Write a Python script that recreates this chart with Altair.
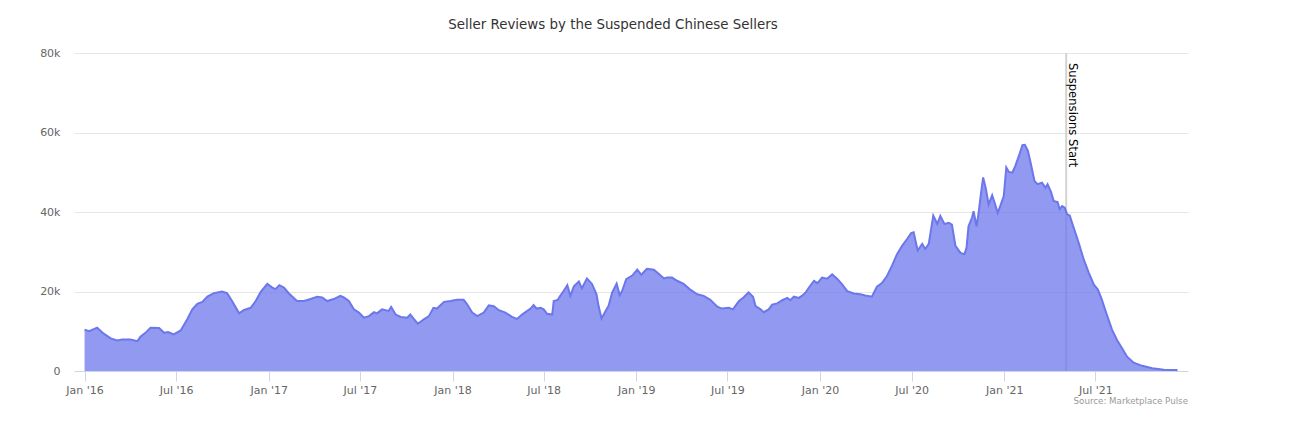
import altair as alt
import pandas as pd

# ---- data (values in thousands of reviews) ----
dates_2016 = ["2016-01-01", "2016-01-10", "2016-01-26", "2016-02-08", "2016-02-22", "2016-03-06",
              "2016-03-16", "2016-04-01", "2016-04-15", "2016-04-21", "2016-05-01", "2016-05-11",
              "2016-05-28", "2016-06-07", "2016-06-15", "2016-06-26", "2016-07-10", "2016-07-23",
              "2016-08-02", "2016-08-12", "2016-08-22", "2016-09-01", "2016-09-14", "2016-09-30",
              "2016-10-10", "2016-10-20", "2016-11-03", "2016-11-12", "2016-11-26", "2016-12-06",
              "2016-12-16", "2016-12-29"]
reviews_2016 = [10.4, 10.0, 10.9, 9.4, 8.2, 7.7, 7.9, 7.9, 7.5, 8.6, 9.6, 10.9, 10.8, 9.6, 9.8, 9.2,
                10.2, 13.0, 15.5, 16.9, 17.4, 18.7, 19.6, 20.0, 19.6, 17.6, 14.5, 15.3, 15.9, 17.6,
                19.9, 21.9]

dates_2017 = ["2017-01-08", "2017-01-14", "2017-01-22", "2017-01-31", "2017-02-10", "2017-02-26",
              "2017-03-12", "2017-03-25", "2017-04-07", "2017-04-17", "2017-04-27", "2017-05-10",
              "2017-05-23", "2017-05-30", "2017-06-09", "2017-06-19", "2017-06-29", "2017-07-09",
              "2017-07-19", "2017-07-29", "2017-08-04", "2017-08-14", "2017-08-27", "2017-09-01",
              "2017-09-10", "2017-09-20", "2017-10-03", "2017-10-09", "2017-10-16", "2017-10-24",
              "2017-11-05", "2017-11-15", "2017-11-24", "2017-12-01", "2017-12-15", "2017-12-28"]
reviews_2017 = [21.0, 20.6, 21.6, 21.0, 19.5, 17.6, 17.6, 18.1, 18.7, 18.5, 17.6, 18.1, 18.9, 18.5,
                17.6, 15.5, 14.7, 13.4, 13.8, 14.8, 14.5, 15.5, 15.1, 16.1, 14.2, 13.6, 13.4, 14.2,
                13.1, 11.9, 13.0, 13.8, 15.9, 15.7, 17.4, 17.6]

dates_2018 = ["2018-01-10", "2018-01-23", "2018-01-30", "2018-02-09", "2018-02-19", "2018-03-04",
              "2018-03-14", "2018-03-24", "2018-04-03", "2018-04-16", "2018-04-29", "2018-05-09",
              "2018-05-19", "2018-05-26", "2018-06-05", "2018-06-11", "2018-06-17", "2018-06-25",
              "2018-07-01", "2018-07-08", "2018-07-18", "2018-07-21", "2018-07-29", "2018-08-03",
              "2018-08-10", "2018-08-17", "2018-08-23", "2018-08-30", "2018-09-09", "2018-09-15",
              "2018-09-25", "2018-10-05", "2018-10-14", "2018-10-18", "2018-10-24", "2018-11-01",
              "2018-11-07", "2018-11-14", "2018-11-23", "2018-11-29", "2018-12-04", "2018-12-12",
              "2018-12-24"]
reviews_2018 = [17.9, 17.9, 16.8, 14.7, 13.8, 14.7, 16.5, 16.3, 15.3, 14.7, 13.6, 13.1, 14.2, 14.8,
                15.7, 16.6, 15.7, 15.9, 15.5, 14.4, 14.2, 17.6, 17.9, 18.9, 20.2, 21.6, 18.9, 21.3,
                22.5, 20.8, 23.3, 21.9, 19.3, 16.4, 13.2, 15.1, 16.4, 19.7, 22.0, 19.1, 20.2, 23.1,
                24.0]

dates_2019 = ["2019-01-03", "2019-01-11", "2019-01-22", "2019-02-05", "2019-02-15", "2019-02-25",
              "2019-03-03", "2019-03-13", "2019-03-23", "2019-04-05", "2019-04-19", "2019-05-02",
              "2019-05-15", "2019-05-28", "2019-06-11", "2019-06-20", "2019-07-04", "2019-07-12",
              "2019-07-24", "2019-08-02", "2019-08-12", "2019-08-21", "2019-08-26", "2019-09-05",
              "2019-09-11", "2019-09-21", "2019-09-28", "2019-10-08", "2019-10-18", "2019-10-28",
              "2019-11-03", "2019-11-10", "2019-11-20", "2019-11-26", "2019-12-03", "2019-12-10",
              "2019-12-20", "2019-12-27"]
reviews_2019 = [25.5, 24.2, 25.7, 25.5, 24.4, 23.3, 23.5, 23.5, 22.7, 21.9, 20.4, 19.3, 18.9, 17.9,
                16.2, 15.7, 15.9, 15.5, 17.6, 18.5, 19.8, 18.7, 16.3, 15.5, 14.8, 15.5, 16.7, 17.0,
                17.8, 18.4, 17.8, 18.7, 18.4, 18.9, 19.7, 21.0, 22.7, 22.1]

dates_2020 = ["2020-01-05", "2020-01-15", "2020-01-25", "2020-02-04", "2020-02-14", "2020-02-24",
              "2020-03-08", "2020-03-21", "2020-03-31", "2020-04-13", "2020-04-23", "2020-05-03",
              "2020-05-13", "2020-05-23", "2020-06-02", "2020-06-12", "2020-06-22", "2020-06-30",
              "2020-07-05", "2020-07-13", "2020-07-22", "2020-07-28", "2020-08-04", "2020-08-13",
              "2020-08-21", "2020-08-27", "2020-09-04", "2020-09-13", "2020-09-19", "2020-09-26",
              "2020-10-06", "2020-10-14", "2020-10-18", "2020-10-22", "2020-10-29", "2020-11-01",
              "2020-11-07", "2020-11-11", "2020-11-16", "2020-11-20", "2020-11-25", "2020-12-01",
              "2020-12-08", "2020-12-14", "2020-12-19", "2020-12-24", "2020-12-31"]
reviews_2020 = [23.5, 23.2, 24.3, 23.2, 21.8, 20.1, 19.5, 19.3, 19.0, 18.7, 21.2, 22.1, 23.9, 26.5,
                29.4, 31.5, 33.2, 34.7, 34.9, 30.3, 32.0, 30.7, 32.0, 39.1, 37.0, 39.0, 37.0, 37.3,
                36.8, 31.5, 29.7, 29.4, 31.0, 36.4, 38.6, 40.2, 36.4, 39.8, 44.9, 48.7, 46.1, 41.9,
                44.2, 41.9, 39.8, 41.5, 44.0]

dates_2021 = ["2021-01-05", "2021-01-10", "2021-01-17", "2021-01-23", "2021-01-30", "2021-02-06",
              "2021-02-11", "2021-02-17", "2021-02-23", "2021-03-02", "2021-03-08", "2021-03-17",
              "2021-03-24", "2021-03-28", "2021-04-04", "2021-04-09", "2021-04-17", "2021-04-21",
              "2021-04-26", "2021-05-01", "2021-05-06", "2021-05-11", "2021-05-19", "2021-05-29",
              "2021-06-08", "2021-06-18", "2021-06-28", "2021-07-06", "2021-07-14", "2021-07-24",
              "2021-08-03", "2021-08-13", "2021-08-23", "2021-09-02", "2021-09-15", "2021-10-02",
              "2021-10-22", "2021-11-14", "2021-12-11"]
reviews_2021 = [51.2, 50.1, 49.9, 51.6, 54.1, 56.8, 56.9, 55.4, 52.0, 47.8, 47.0, 47.4, 46.1, 47.0,
                45.0, 42.8, 42.5, 40.7, 41.5, 41.1, 39.4, 39.1, 36.0, 32.2, 28.0, 24.7, 21.7, 20.5,
                17.9, 14.1, 10.4, 7.8, 5.7, 3.6, 2.1, 1.3, 0.7, 0.3, 0.25]

event_dates = ["2021-05-04"]
event_labels = ["Suspensions Start"]

x_tick_dates = ["2016-01-01", "2016-07-01", "2017-01-01", "2017-07-01", "2018-01-01", "2018-07-01",
                "2019-01-01", "2019-07-01", "2020-01-01", "2020-07-01", "2021-01-01", "2021-07-01"]
x_domain = ["2015-12-11", "2022-01-01"]
y_ticks = [0, 20000, 40000, 60000, 80000]

title_text = "Seller Reviews by the Suspended Chinese Sellers"
credit_text = "Source: Marketplace Pulse"

# ---- build tables ----
rows = []
for ds, vs in [(dates_2016, reviews_2016), (dates_2017, reviews_2017), (dates_2018, reviews_2018),
               (dates_2019, reviews_2019), (dates_2020, reviews_2020), (dates_2021, reviews_2021)]:
    for d, v in zip(ds, vs):
        rows.append({"date": d, "reviews": round(v * 1000)})
df = pd.DataFrame(rows)
events = pd.DataFrame({"date": event_dates, "label": event_labels})
credits = pd.DataFrame({"credit": [credit_text]})


def dt(s):
    y, m, d = (int(p) for p in s.split("-"))
    return alt.DateTime(year=y, month=m, date=d, utc=True)


FONT = "DejaVu Sans"
W, H = 1114, 318
COLOR = "#6c77eb"

x_enc = alt.X(
    "date:T",
    scale=alt.Scale(type="utc", domain=[dt(s) for s in x_domain], nice=False),
    axis=alt.Axis(
        values=[dt(s) for s in x_tick_dates], format="%b '%y", title=None, grid=False,
        labelColor="#666666", labelFontSize=11, labelFont=FONT, labelPadding=3,
        domainColor="#ccd6eb", tickColor="#ccd6eb", tickSize=10, labelFlush=False,
    ),
)
y_enc = alt.Y(
    "reviews:Q",
    scale=alt.Scale(domain=[0, 80000], nice=False),
    axis=alt.Axis(
        values=y_ticks, title=None, domain=False, ticks=False,
        labelExpr="datum.value == 0 ? '0' : (datum.value / 1000) + 'k'",
        labelColor="#666666", labelFontSize=11, labelFont=FONT, labelPadding=14,
        gridColor="#e6e6e6", gridWidth=1,
    ),
)

rule = alt.Chart(events).mark_rule(color="#d3d3d3", strokeWidth=2).encode(x="date:T")

area = alt.Chart(df).mark_area(color=COLOR, fillOpacity=0.75, interpolate="linear").encode(
    x=x_enc, y=y_enc
)
line = alt.Chart(df).mark_line(color=COLOR, strokeWidth=2, interpolate="linear").encode(
    x="date:T", y="reviews:Q"
)

label = alt.Chart(events).mark_text(
    angle=90, align="left", baseline="bottom", fontSize=11.6, font=FONT, color="#000000", dy=-1
).encode(x="date:T", y=alt.value(10), text="label:N")

credit = alt.Chart(credits).mark_text(
    align="right", baseline="middle", fontSize=8.7, font=FONT, color="#999999"
).encode(x=alt.value(W), y=alt.value(348), text="credit:N")

chart = (
    alt.layer(rule, area, line, label, credit)
    .properties(
        width=W, height=H,
        title=alt.TitleParams(
            text=title_text, fontSize=13.4, font=FONT, color="#333333", fontWeight="normal",
            anchor="middle", dx=-18, offset=2, baseline="bottom",
        ),
        padding={"left": 66, "top": 45, "right": 100, "bottom": 50},
        autosize=alt.AutoSizeParams(type="none"),
        background="#ffffff",
    )
    .configure_view(stroke=None)
)

chart.save("out.html", embed_options={"renderer": "svg", "actions": False})
